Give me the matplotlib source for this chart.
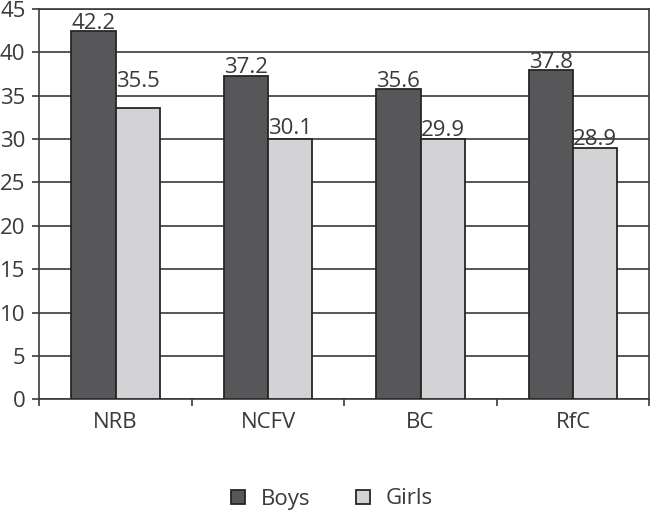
import matplotlib
matplotlib.use("Agg")
import matplotlib.pyplot as plt
import numpy as np
from matplotlib.lines import Line2D

categories = ["NRB", "NCFV", "BC", "RfC"]
boys = [42.45, 37.3, 35.8, 37.95]
girls = [33.6, 30.0, 30.0, 29.0]
boys_labels = ["42.2", "37.2", "35.6", "37.8"]
girls_labels = ["35.5", "30.1", "29.9", "28.9"]
boys_label_pos = [42.2, 37.2, 35.6, 37.8]
girls_label_pos = [35.5, 30.1, 29.9, 28.9]
yticks = [0, 5, 10, 15, 20, 25, 30, 35, 40, 45]

plt.rcParams['font.family'] = ['Open Sans', 'DejaVu Sans']
txt = '#3a3a3a'
boys_c = '#575759'
girls_c = '#d3d3d5'
edge = '#262626'
grid_c = '#3a3a3a'
fs = 16

fig = plt.figure(figsize=(6.52, 5.14), dpi=100)
ax = fig.add_axes([0.0603, 0.2232, 0.9355, 0.7593])

x = np.arange(len(categories))
w = 0.29
ax.bar(x - w / 2, boys, w, color=boys_c, edgecolor=edge, linewidth=1.3, zorder=3, label='Boys')
ax.bar(x + w / 2, girls, w, color=girls_c, edgecolor=edge, linewidth=1.3, zorder=3, label='Girls')

for i in range(len(categories)):
    ax.text(x[i] - w / 2, boys_label_pos[i] + 0.45, boys_labels[i], ha='center', va='baseline',
            fontsize=fs, color=txt, zorder=4)
    ax.text(x[i] + w / 2, girls_label_pos[i] + 0.45, girls_labels[i], ha='center', va='baseline',
            fontsize=fs, color=txt, zorder=4)

ax.set_xlim(-0.5, len(categories) - 0.5)
ax.set_ylim(0, 45)
ax.set_yticks(yticks)
ax.set_yticklabels([str(t) for t in yticks], fontsize=fs, color=txt)
ax.yaxis.grid(True, color=grid_c, linewidth=1.2, zorder=0)
ax.set_axisbelow(True)

ax.set_xticks(x)
ax.set_xticklabels(categories, fontsize=fs, color=txt)
ax.set_xticks(np.arange(-0.5, len(categories)), minor=True)
ax.tick_params(axis='x', which='major', length=0, pad=9)
ax.tick_params(axis='x', which='minor', length=5, width=1.2, color=grid_c, direction='out')
ax.tick_params(axis='y', length=5, width=1.2, color=grid_c, pad=5, direction='out')

for s in ['left', 'bottom', 'right', 'top']:
    ax.spines[s].set_color(grid_c)
    ax.spines[s].set_linewidth(1.2)

handles = [Line2D([], [], marker='s', linestyle='none', markersize=10.5,
                  markerfacecolor=boys_c, markeredgecolor=edge, markeredgewidth=1.3),
           Line2D([], [], marker='s', linestyle='none', markersize=10.5,
                  markerfacecolor=girls_c, markeredgecolor=edge, markeredgewidth=1.3)]
leg = fig.legend(handles, ['Boys', 'Girls'], loc='center', bbox_to_anchor=(330 / 652, 1 - 499 / 514),
                 ncol=2, frameon=False, fontsize=fs, handlelength=1.0, handletextpad=0.5,
                 columnspacing=1.9)
for t in leg.get_texts():
    t.set_color(txt)

fig.savefig('out.png', dpi=100)
